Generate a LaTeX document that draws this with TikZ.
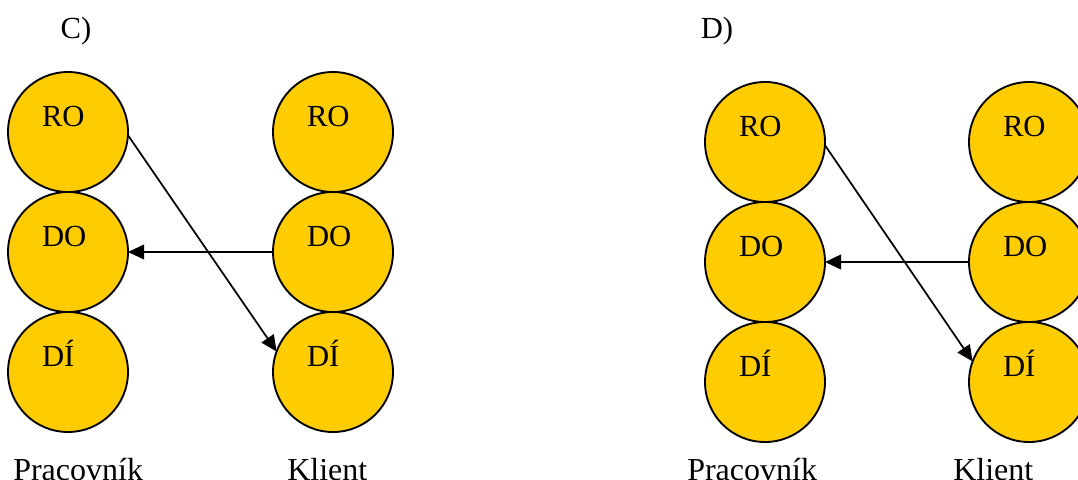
\documentclass[tikz,border=0pt]{standalone}
\usepackage{fontspec}
\setmainfont{Liberation Serif}
\usetikzlibrary{arrows.meta, positioning}
\definecolor{zluta}{HTML}{FFCC00}

\begin{document}
\begin{tikzpicture}[x=0.75pt, y=-0.75pt, font=\fontsize{23}{28}\selectfont,
  kruh/.style={circle, draw, line width=1.4pt, fill=zluta, minimum size=90pt, inner sep=0pt, outer sep=0pt,
    text width=39pt, align=left, text height=0pt, text depth=9pt},
  sipka/.style={-{Triangle[length=12pt, width=11pt]}, line width=1.3pt},
  popisek/.style={anchor=base west, inner sep=0pt, font=\fontsize{24}{28}\selectfont},
  node distance=0pt]
\useasboundingbox (0,0) rectangle (1078,479);

\node[anchor=base] (titC) at (76,38) {C)};
\node[kruh] (ro1) at (68,132) {RO};
\node[kruh, below=of ro1] (do1) {DO};
\node[kruh, below=of do1] (di1) {DÍ};
\node[kruh] (ro2) at (333,132) {RO};
\node[kruh, below=of ro2] (do2) {DO};
\node[kruh, below=of do2] (di2) {DÍ};
\node[popisek] (prac1) at (13,480) {Pracovník};
\node[popisek] (kl1) at (287,480) {Klient};
\draw[sipka] (ro1.-3) -- (di2.160);
\draw[sipka] (do2.west) -- (do1.east);

\node[anchor=base] (titD) at (717,38) {D)};
\node[kruh] (ro3) at (765,142) {RO};
\node[kruh, below=of ro3] (do3) {DO};
\node[kruh, below=of do3] (di3) {DÍ};
\node[kruh] (ro4) at (1029,142) {RO};
\node[kruh, below=of ro4] (do4) {DO};
\node[kruh, below=of do4] (di4) {DÍ};
\node[popisek] (prac2) at (687,480) {Pracovník};
\node[popisek] (kl2) at (953,480) {Klient};
\draw[sipka] (ro3.-3) -- (di4.160);
\draw[sipka] (do4.west) -- (do3.east);
\end{tikzpicture}
\end{document}
